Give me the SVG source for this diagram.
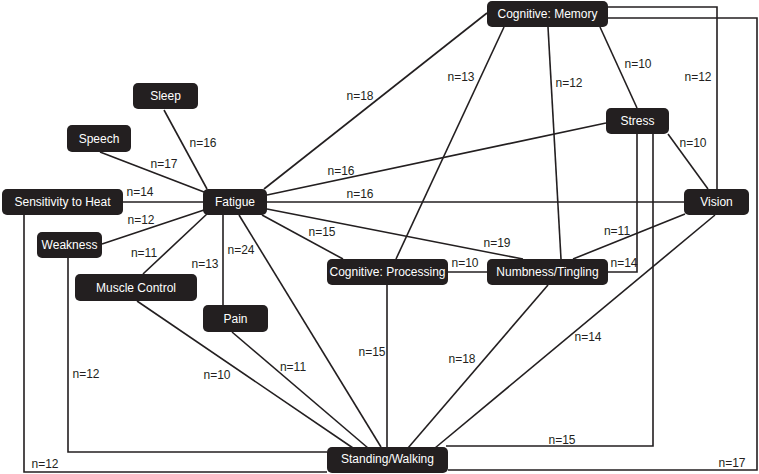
<svg xmlns="http://www.w3.org/2000/svg" width="759" height="474" viewBox="0 0 759 474">
<style>
.e{stroke:#231f20;stroke-width:1.6;fill:none}
.n rect{fill:#231f20}
.n text{fill:#fff;font-family:"Liberation Sans",Arial,sans-serif;font-size:12px;text-anchor:middle}
.l{fill:#231f20;font-family:"Liberation Sans",Arial,sans-serif;font-size:12px;text-anchor:middle}
</style>
<rect width="759" height="474" fill="#fff"/>
<g id="connectors">
<line class="e" x1="164" y1="110" x2="207" y2="189"/>
<line class="e" x1="100" y1="152" x2="204" y2="192"/>
<line class="e" x1="123" y1="202" x2="203" y2="202"/>
<line class="e" x1="102" y1="244" x2="204" y2="210"/>
<line class="e" x1="143" y1="274" x2="208" y2="213"/>
<line class="e" x1="223" y1="215" x2="223" y2="305"/>
<line class="e" x1="239" y1="215" x2="381" y2="447"/>
<line class="e" x1="262" y1="215" x2="343" y2="259"/>
<line class="e" x1="267" y1="209" x2="523" y2="259"/>
<line class="e" x1="267" y1="202" x2="684" y2="202"/>
<line class="e" x1="267" y1="195" x2="606" y2="123"/>
<line class="e" x1="264" y1="189" x2="487" y2="13"/>
<line class="e" x1="504" y1="27" x2="396" y2="259"/>
<line class="e" x1="548" y1="27" x2="561" y2="259"/>
<line class="e" x1="600" y1="27" x2="637" y2="108"/>
<polyline class="e" points="608,7 717,7 717,189"/>
<polyline class="e" points="608,18 757,18 757,470 448,470"/>
<polyline class="e" points="24,215 24,472 327,472"/>
<polyline class="e" points="68,258 68,452 327,452"/>
<line class="e" x1="137" y1="301" x2="353" y2="448"/>
<line class="e" x1="232" y1="332" x2="368" y2="448"/>
<line class="e" x1="387" y1="285" x2="387" y2="447"/>
<line class="e" x1="448" y1="272" x2="487" y2="272"/>
<line class="e" x1="548" y1="285" x2="408" y2="448"/>
<line class="e" x1="715" y1="215" x2="435" y2="448"/>
<line class="e" x1="685" y1="214" x2="573" y2="259"/>
<polyline class="e" points="637,134 637,272 608,272"/>
<polyline class="e" points="653,134 653,446 446,446"/>
<line class="e" x1="668" y1="134" x2="708" y2="189"/>
</g>
<g id="labels">
<text class="l" x="203" y="147">n=16</text>
<text class="l" x="164" y="168">n=17</text>
<text class="l" x="140" y="196">n=14</text>
<text class="l" x="141" y="224">n=12</text>
<text class="l" x="144" y="257">n=11</text>
<text class="l" x="205" y="268">n=13</text>
<text class="l" x="241" y="254">n=24</text>
<text class="l" x="322" y="236">n=15</text>
<text class="l" x="497" y="247">n=19</text>
<text class="l" x="360" y="198">n=16</text>
<text class="l" x="341" y="175">n=16</text>
<text class="l" x="360" y="100">n=18</text>
<text class="l" x="461" y="81">n=13</text>
<text class="l" x="569" y="87">n=12</text>
<text class="l" x="638" y="68">n=10</text>
<text class="l" x="698" y="81">n=12</text>
<text class="l" x="732" y="467">n=17</text>
<text class="l" x="45" y="468">n=12</text>
<text class="l" x="86" y="378">n=12</text>
<text class="l" x="217" y="379">n=10</text>
<text class="l" x="293" y="371">n=11</text>
<text class="l" x="372" y="356">n=15</text>
<text class="l" x="465" y="267">n=10</text>
<text class="l" x="462" y="363">n=18</text>
<text class="l" x="588" y="341">n=14</text>
<text class="l" x="617" y="235">n=11</text>
<text class="l" x="624" y="267">n=14</text>
<text class="l" x="562" y="444">n=15</text>
<text class="l" x="693" y="147">n=10</text>
</g>
<g id="node-memory" class="n"><rect x="487" y="1" width="121" height="26" rx="5"/><text x="547.5" y="18">Cognitive: Memory</text></g>
<g id="node-sleep" class="n"><rect x="133" y="83" width="65" height="26" rx="5"/><text x="165.5" y="100">Sleep</text></g>
<g id="node-speech" class="n"><rect x="67" y="125" width="64" height="27" rx="5"/><text x="99" y="142.5">Speech</text></g>
<g id="node-heat" class="n"><rect x="2" y="189" width="121" height="26" rx="5"/><text x="62.5" y="206">Sensitivity to Heat</text></g>
<g id="node-fatigue" class="n"><rect x="203" y="189" width="64" height="26" rx="5"/><text x="235" y="206">Fatigue</text></g>
<g id="node-stress" class="n"><rect x="606" y="108" width="63" height="26" rx="5"/><text x="637.5" y="125">Stress</text></g>
<g id="node-vision" class="n"><rect x="684" y="189" width="65" height="26" rx="5"/><text x="716.5" y="206">Vision</text></g>
<g id="node-weakness" class="n"><rect x="37" y="232" width="65" height="26" rx="5"/><text x="69.5" y="249">Weakness</text></g>
<g id="node-muscle" class="n"><rect x="75" y="274" width="122" height="27" rx="5"/><text x="136" y="291.5">Muscle Control</text></g>
<g id="node-pain" class="n"><rect x="203" y="305" width="65" height="27" rx="5"/><text x="235.5" y="322.5">Pain</text></g>
<g id="node-processing" class="n"><rect x="327" y="259" width="121" height="26" rx="5"/><text x="387.5" y="276">Cognitive: Processing</text></g>
<g id="node-numbness" class="n"><rect x="487" y="259" width="121" height="26" rx="5"/><text x="547.5" y="276">Numbness/Tingling</text></g>
<g id="node-standing" class="n"><rect x="327" y="447" width="121" height="26" rx="5"/><text x="387.5" y="463">Standing/Walking</text></g>
</svg>
